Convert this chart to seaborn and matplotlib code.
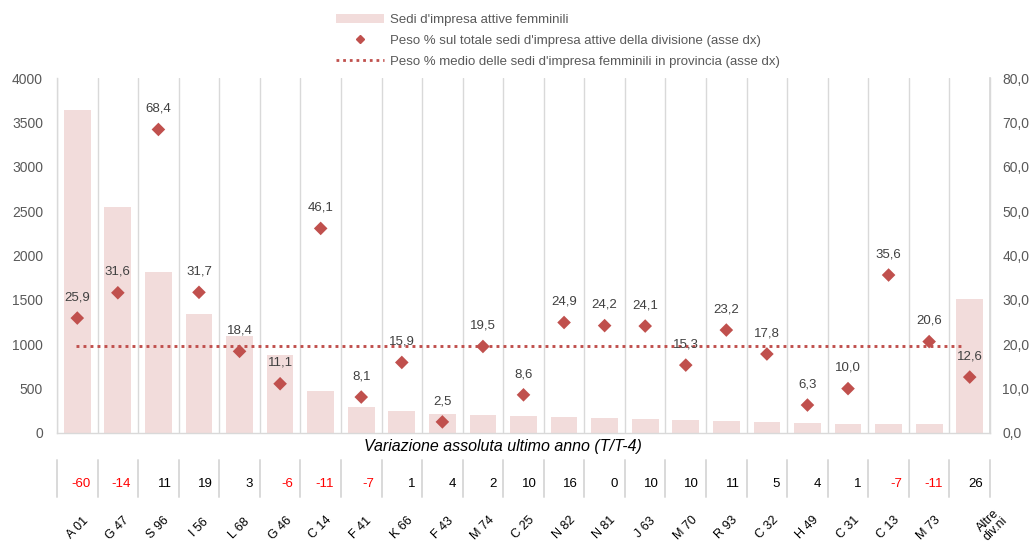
import matplotlib
matplotlib.use("Agg")
import matplotlib.pyplot as plt
import matplotlib.transforms as mtransforms
from matplotlib.lines import Line2D
from matplotlib.patches import Patch
import numpy as np
import pandas as pd
import seaborn as sns

categories = ["A 01", "G 47", "S 96", "I 56", "L 68", "G 46", "C 14", "F 41", "K 66",
              "F 43", "M 74", "C 25", "N 82", "N 81", "J 63", "M 70", "R 93", "C 32",
              "H 49", "C 31", "C 13", "M 73", "Altre\ndiv.ni"]
sedi_femminili = [3640, 2546, 1814, 1337, 1096, 879, 477, 297, 248, 214, 203, 192, 180,
                  169, 158, 143, 132, 120, 109, 107, 106, 105, 1510]
peso_pct = [25.9, 31.6, 68.4, 31.7, 18.4, 11.1, 46.1, 8.1, 15.9, 2.5, 19.5, 8.6, 24.9,
            24.2, 24.1, 15.3, 23.2, 17.8, 6.3, 10.0, 35.6, 20.6, 12.6]
peso_medio = 19.7
variazione = [-60, -14, 11, 19, 3, -6, -11, -7, 1, 4, 2, 10, 16, 0, 10, 10, 11, 5, 4, 1,
              -7, -11, 26]
left_ticks = [0, 500, 1000, 1500, 2000, 2500, 3000, 3500, 4000]
right_ticks = [0, 10, 20, 30, 40, 50, 60, 70, 80]

legend_labels = ["Sedi d'impresa attive femminili",
                 "Peso % sul totale sedi d'impresa attive della divisione (asse dx)",
                 "Peso % medio delle sedi d'impresa femminili in provincia (asse dx)"]
table_title = "Variazione assoluta ultimo anno (T/T-4)"

BAR_C = "#F2DCDB"
PT_C = "#C0504D"
GRID_C = "#D9D9D9"
TICK_C = "#595959"

sns.set_theme(style="white")
plt.rcParams["font.family"] = ["Liberation Sans", "DejaVu Sans"]

df = pd.DataFrame({"cat": categories, "sedi": sedi_femminili, "peso": peso_pct,
                   "pos": np.arange(len(categories))})

fig = plt.figure(figsize=(10.31, 5.43), dpi=100)
ax = fig.add_axes([57 / 1031, 1 - 433 / 543, (990 - 57) / 1031, (433 - 78) / 543])

sns.barplot(data=df, x="cat", y="sedi", color=BAR_C, saturation=1, width=0.66,
            linewidth=0, ax=ax, zorder=2)
n = len(categories)
ax.set_xlim(-0.5, n - 0.5)
ax.set_ylim(0, 4000)
ax.set_yticks(left_ticks)
ax.set_yticklabels([str(v) for v in left_ticks])
ax.set_xlabel("")
ax.set_ylabel("")
ax.set_xticks([])
for b in np.arange(n + 1) - 0.5:
    ax.axvline(b, color=GRID_C, lw=1, zorder=1)
for side in ["left", "right", "bottom"]:
    ax.spines[side].set_color(GRID_C)
    ax.spines[side].set_linewidth(1)
ax.spines["top"].set_visible(False)
ax.tick_params(axis="y", length=0, pad=10, labelsize=10, labelcolor=TICK_C)

ax2 = ax.twinx()
ax2.plot([-0.04, 21.86], [peso_medio, peso_medio], color=PT_C, lw=2.1,
         linestyle=(0, (1, 1.4)), zorder=3)
sns.scatterplot(data=df, x="pos", y="peso", marker="D", s=48, color=PT_C,
                edgecolor="none", ax=ax2, zorder=4, legend=False)
ax2.set_xlim(-0.5, n - 0.5)
ax2.set_ylim(0, 80)
ax2.set_yticks(right_ticks)
ax2.set_yticklabels([f"{v:.1f}".replace(".", ",") for v in right_ticks])
ax2.set_xlabel("")
ax2.set_ylabel("")
ax2.set_xticks([])
for side in ["left", "top", "bottom"]:
    ax2.spines[side].set_visible(False)
ax2.spines["right"].set_color(GRID_C)
ax2.tick_params(axis="y", length=0, pad=9, labelsize=10, labelcolor=TICK_C)

for i, v in enumerate(peso_pct):
    ax2.annotate(f"{v:.1f}".replace(".", ","), (i, v), xytext=(0, 15),
                 textcoords="offset points", ha="center", va="center",
                 fontsize=9.5, color="#404040", zorder=5)

# table below
fig.text(503 / 1031, 1 - 447 / 543, table_title, ha="center", va="center",
         fontsize=11.5, style="italic", color="#000000")
trans = mtransforms.blended_transform_factory(ax.transData, fig.transFigure)
for b in np.arange(n + 1) - 0.5:
    ax.add_line(Line2D([b, b], [1 - 460 / 543, 1 - 497 / 543], transform=trans,
                       color=GRID_C, lw=1.4, clip_on=False))
for i, v in enumerate(variazione):
    ax.text(i + 0.33, 1 - 484 / 543, str(v), transform=trans, ha="right",
            va="center", fontsize=9.5, color="#FF0000" if v < 0 else "#000000")
for i, lab in enumerate(categories):
    t = trans
    y = 1 - 528 / 543
    if "\n" in lab:
        t = trans + mtransforms.ScaledTranslation(22 / 100, 0, fig.dpi_scale_trans)
        y = 1 - 525 / 543
    ax.text(i, y, lab, transform=t, ha="center", va="center",
            rotation=45, fontsize=9, color="#000000", linespacing=0.95)

handles = [Patch(facecolor=BAR_C, edgecolor="none"),
           Line2D([], [], marker="D", color=PT_C, linestyle="none", markersize=4),
           Line2D([], [], color=PT_C, lw=2, linestyle=(0, (1, 1.4)))]
fig.legend(handles, legend_labels, loc="upper left",
           bbox_to_anchor=(336 / 1031, 1 - 14 / 543), frameon=False, fontsize=9.5,
           handlelength=3.6, handletextpad=0.5, labelspacing=0.65, borderpad=0,
           borderaxespad=0, labelcolor="#595959")

fig.savefig("out.png", dpi=100)
